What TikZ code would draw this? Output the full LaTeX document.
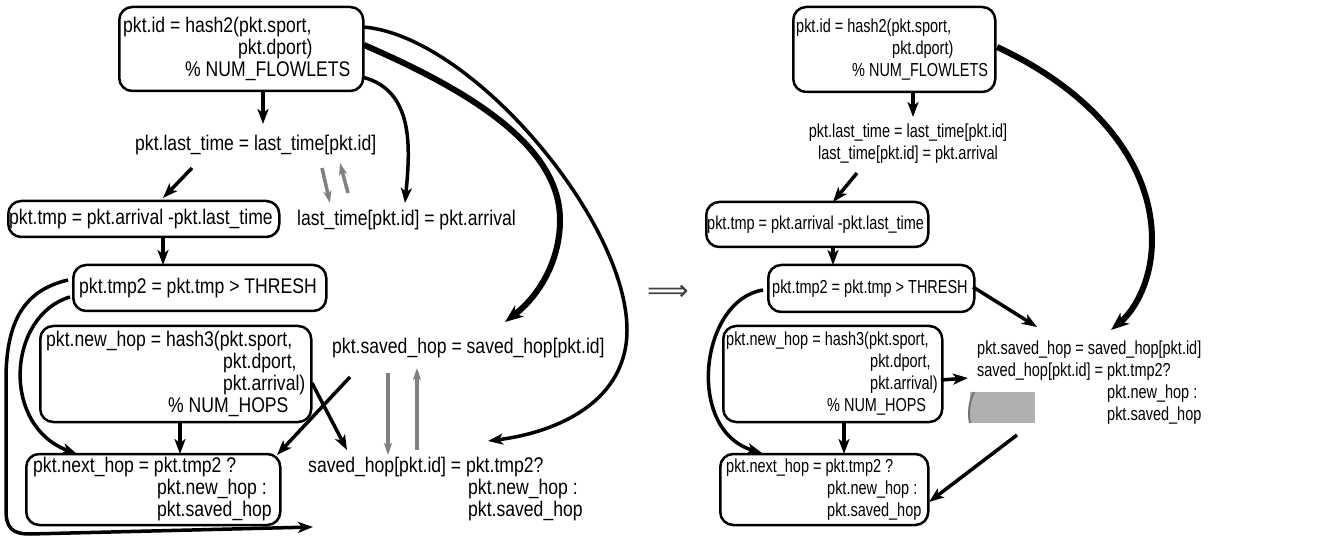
\documentclass[tikz,border=0pt]{standalone}
\usepackage{fontspec}
\setmainfont{Liberation Sans}
\newfontfamily\tallsans[FakeStretch=0.83]{Liberation Sans}
\newfontfamily\narrowsans[FakeStretch=0.77]{Liberation Sans}
\newfontfamily\symbolsans{DejaVu Sans}
\usetikzlibrary{arrows.meta,calc}

\begin{document}
\begin{tikzpicture}[x=1pt,y=-1pt,
  every node/.style={font=\tallsans\fontsize{21.2}{22}\selectfont},
  narrow/.style={font=\narrowsans\fontsize{18.8}{22}\selectfont},
  box/.style={draw, line width=2.5pt, rounded corners=13pt, inner sep=0pt, anchor=west},
  lbl/.style={inner sep=0pt, anchor=west, align=left},
  flow/.style={line width=3.5pt, -{Stealth[length=15pt,width=11pt,inset=4pt]}},
  heavy/.style={line width=6pt, -{Stealth[length=18pt,width=14pt,inset=5pt]}},
  mem/.style={line width=3.5pt, draw=gray, -{Stealth[length=12pt,width=8pt,inset=3pt]}}
]
\fill[white] (0,0) rectangle (1331,537);
\useasboundingbox (0,0) rectangle (1331,537);

% ---------------- original program ----------------
\node[box, minimum width=244pt, minimum height=84pt] (hashid) at (118,49) {};
\node[lbl] (hashidtext) at ($(hashid.west)+(5,0)$)
  {pkt.id = hash2(pkt.sport,\\\hspace*{115pt}pkt.dport)\\\hspace*{62pt}\% NUM\_FLOWLETS};
\node[lbl] (lastread) at (135,145) {pkt.last\_time = last\_time[pkt.id]};
\node[lbl] (lastwrite) at (297,220) {last\_time[pkt.id] = pkt.arrival};
\node[box, minimum width=271pt, minimum height=36pt] (tmp) at (7,219) {};
\node[lbl] (tmptext) at ($(tmp.west)+(2,0)$) {pkt.tmp = pkt.arrival -pkt.last\_time};
\node[box, minimum width=253pt, minimum height=46pt] (tmptwo) at (72,288) {};
\node[lbl] (tmptwotext) at ($(tmptwo.west)+(7,0)$) {pkt.tmp2 = pkt.tmp > THRESH};
\node[box, minimum width=271pt, minimum height=96pt] (newhop) at (39,374) {};
\node[lbl] (newhoptext) at ($(newhop.west)+(7,0)$)
  {pkt.new\_hop = hash3(pkt.sport,\\\hspace*{177pt}pkt.dport,\\\hspace*{177pt}pkt.arrival)\\\hspace*{122pt}\% NUM\_HOPS};
\node[box, minimum width=254pt, minimum height=71pt] (nexthop) at (25,489.5) {};
\node[lbl] (nexthoptext) at ($(nexthop.west)+(8,0)$)
  {pkt.next\_hop = pkt.tmp2 ?\\\hspace*{124pt}pkt.new\_hop :\\\hspace*{124pt}pkt.saved\_hop};
\node[lbl] (hopread) at (332,348) {pkt.saved\_hop = saved\_hop[pkt.id]};
\node[lbl] (hopwrite) at (308,489.5)
  {saved\_hop[pkt.id] = pkt.tmp2?\\\hspace*{160pt}pkt.new\_hop :\\\hspace*{160pt}pkt.saved\_hop};
\coordinate (loopend) at (313,527);

\draw[flow] ($(hashid.west)+(145,42)$) -- ($(lastread.west)+(128,-21)$);
\draw[flow] ($(lastread.west)+(57,23)$) -- ($(tmp.west)+(156,-21)$);
\draw[flow] ($(hashid.west)+(244,28)$) .. controls ($(hashid.west)+(297,41)$) and ($(lastwrite.west)+(113,-70)$) .. ($(lastwrite.west)+(108,-17)$);
\draw[heavy] ($(hashid.west)+(246,-4)$) .. controls ($(hashid.west)+(362,46)$) and ($(hopread.west)+(228,-198)$) .. ($(hopread.west)+(228,-128)$)
  .. controls ($(hopread.west)+(228,-88)$) and ($(hopread.west)+(208,-53)$) .. ($(hopread.west)+(173,-26)$);
\draw[flow] ($(hashid.west)+(245,-22)$) .. controls ($(hashid.west)+(352,-14)$) and ($(hopwrite.west)+(319,-269.5)$) .. ($(hopwrite.west)+(319,-159.5)$)
  .. controls ($(hopwrite.west)+(319,-89.5)$) and ($(hopwrite.west)+(252,-57.5)$) .. ($(hopwrite.west)+(180,-48.5)$);
\draw[mem] ($(lastread.west)+(187,23)$) -- ($(lastwrite.west)+(33,-17)$);
\draw[mem] ($(lastwrite.west)+(51,-27)$) -- ($(lastread.west)+(205,18)$);
\draw[flow] ($(tmp.west)+(156,18)$) -- ($(tmptwo.west)+(91,-23)$);
\draw[flow] ($(tmptwo.west)+(-2,9)$) .. controls ($(tmptwo.west)+(-64,27)$) and ($(nexthop.west)+(-25,-64.5)$) .. ($(nexthop.west)+(52,-35.5)$);
\draw[flow] ($(tmptwo.west)+(-4,-8)$) .. controls ($(tmptwo.west)+(-47,2)$) and ($(tmptwo.west)+(-66,32)$) .. ($(tmptwo.west)+(-66,92)$)
  -- ($(tmptwo.west)+(-66,222)$) .. controls ($(tmptwo.west)+(-66,240)$) and ($(tmptwo.west)+(-60,246)$) .. ($(tmptwo.west)+(-42,246)$)
  -- (loopend);
\draw[flow] ($(newhop.west)+(141,48)$) -- ($(nexthop.west)+(155,-35.5)$);
\draw[flow] ($(newhop.west)+(273,9)$) -- ($(hopwrite.west)+(39,-39.5)$);
\draw[flow] ($(hopread.west)+(18,29)$) -- ($(nexthop.west)+(252,-34.5)$);
\draw[mem] ($(hopread.west)+(56,25)$) -- ($(hopwrite.west)+(80,-34.5)$);
\draw[mem] ($(hopwrite.west)+(109,-39.5)$) -- ($(hopread.west)+(85,20)$);

% ---------------- transformation sign ----------------
\node[text=black!75, font=\symbolsans\fontsize{29}{29}\selectfont, inner sep=0pt] (implies) at (668,293) {⟹};

% ---------------- transformed program ----------------
\node[box, minimum width=202pt, minimum height=85pt] (rhashid) at (792,49.5) {};
\node[lbl, narrow] (rhashidtext) at ($(rhashid.west)+(4,0)$)
  {pkt.id = hash2(pkt.sport,\\\hspace*{96pt}pkt.dport)\\\hspace*{56pt}\% NUM\_FLOWLETS};
\node[narrow, inner sep=0pt, align=center] (rlast) at (908,144)
  {pkt.last\_time = last\_time[pkt.id]\\last\_time[pkt.id] = pkt.arrival};
\node[box, minimum width=222pt, minimum height=45pt] (rtmp) at (705,224.5) {};
\node[lbl, narrow] (rtmptext) at ($(rtmp.west)+(2,0)$) {pkt.tmp = pkt.arrival -pkt.last\_time};
\node[box, minimum width=206pt, minimum height=47pt] (rtmptwo) at (767,288.5) {};
\node[lbl, narrow] (rtmptwotext) at ($(rtmptwo.west)+(5,0)$) {pkt.tmp2 = pkt.tmp > THRESH};
\node[box, minimum width=219pt, minimum height=96pt] (rnewhop) at (722,374) {};
\node[lbl, narrow] (rnewhoptext) at ($(rnewhop.west)+(4,0)$)
  {pkt.new\_hop = hash3(pkt.sport,\\\hspace*{144pt}pkt.dport,\\\hspace*{144pt}pkt.arrival)\\\hspace*{101pt}\% NUM\_HOPS};
\node[box, minimum width=208pt, minimum height=71pt] (rnexthop) at (719,489.5) {};
\node[lbl, narrow] (rnexthoptext) at ($(rnexthop.west)+(7,0)$)
  {pkt.next\_hop = pkt.tmp2 ?\\\hspace*{101pt}pkt.new\_hop :\\\hspace*{101pt}pkt.saved\_hop};
\node[lbl, narrow] (rsaved) at (977,383)
  {pkt.saved\_hop = saved\_hop[pkt.id]\\saved\_hop[pkt.id] = pkt.tmp2?\\\hspace*{130pt}pkt.new\_hop :\\\hspace*{130pt}pkt.saved\_hop};

% grey patch below the combined saved_hop statement
\fill[black!31] (970,392) rectangle (1035,423);
\draw[black!55, line width=2pt] (974,392) .. controls (969,401) and (968,414) .. (970,423);

\draw[flow] ($(rhashid.west)+(121,42.5)$) -- ($(rlast)+(5,-27)$);
\draw[heavy] ($(rhashid.west)+(205,-2.5)$) .. controls ($(rhashid.west)+(298,40.5)$) and ($(rsaved.west)+(175,-223)$) .. ($(rsaved.west)+(175,-143)$)
  .. controls ($(rsaved.west)+(175,-103)$) and ($(rsaved.west)+(158,-73)$) .. ($(rsaved.west)+(134,-53)$);
\draw[flow] ($(rlast)+(-51,29)$) -- ($(rtmp.west)+(128,-22.5)$);
\draw[flow] ($(rtmp.west)+(128,22.5)$) -- ($(rtmptwo.west)+(66,-23.5)$);
\draw[flow] ($(rtmptwo.west)+(206,-1.5)$) -- ($(rsaved.west)+(60,-56)$);
\draw[flow] ($(rtmptwo.west)+(-4,1.5)$) .. controls ($(rtmptwo.west)+(-67,11.5)$) and ($(rnexthop.west)+(-34,-59.5)$) .. ($(rnexthop.west)+(43,-36.5)$);
\draw[flow] ($(rnewhop.west)+(219,6)$) -- ($(rsaved.west)+(-9,-5)$);
\draw[flow] ($(rnewhop.west)+(122,48)$) -- ($(rnexthop.west)+(125,-35.5)$);
\draw[flow] ($(rsaved.west)+(40,52)$) -- ($(rnexthop.west)+(210,12.5)$);
\end{tikzpicture}
\end{document}
